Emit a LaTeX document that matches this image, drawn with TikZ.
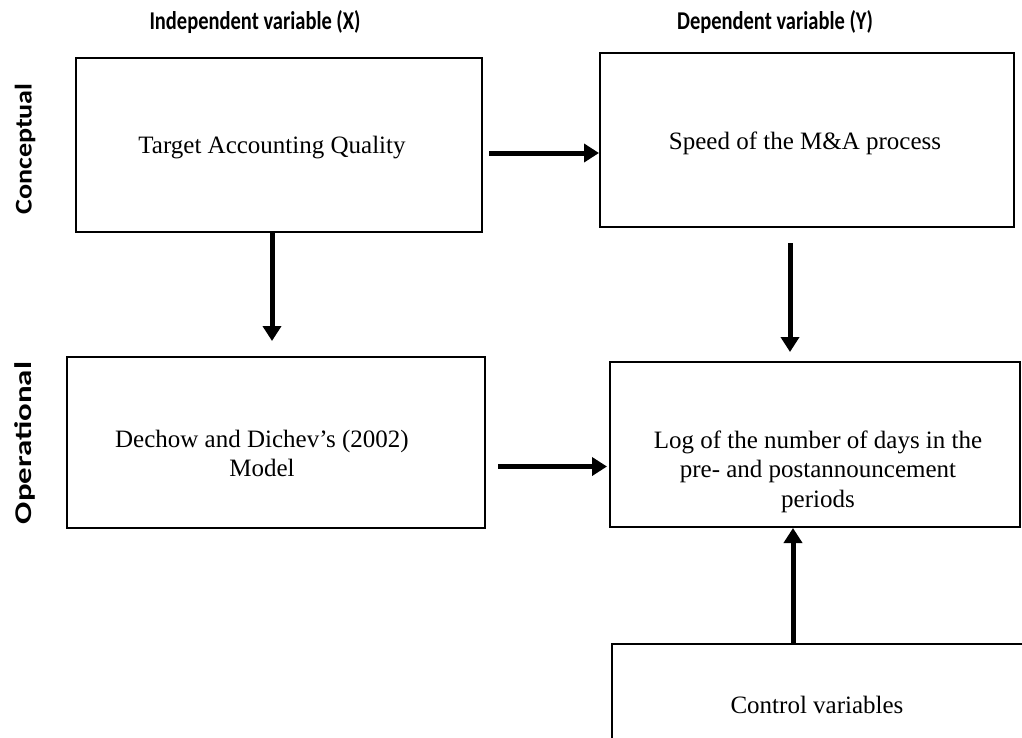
\documentclass[tikz,border=0pt]{standalone}
\usepackage{fontspec}
\setmainfont{Liberation Serif}
\newfontfamily\headfont{Carlito}
\usetikzlibrary{arrows.meta,calc,positioning}

\tikzset{
  box/.style={draw, line width=2pt, rectangle, inner sep=0pt},
  boxtext/.style={align=center, inner sep=0pt, font=\fontsize{25}{29.5}\selectfont},
  flow/.style={line width=5pt, -{Triangle[length=15pt,width=18pt]}},
  head/.style={font=\headfont\bfseries\fontsize{20.5}{24}\selectfont},
  side/.style={rotate=90, font=\headfont\bfseries\fontsize{24}{28}\selectfont},
}

\begin{document}
\begin{tikzpicture}[x=1pt, y=-1pt]
  \useasboundingbox (0,0) rectangle (1022,737);
  % column headings
  \node[head] (indep) at (255,22) {\scalebox{1}[1.25]{Independent variable (X)}};
  \node[head] (dep)   at (775,22) {\scalebox{1}[1.25]{Dependent variable (Y)}};
  % row labels
  \node[side] (concept) at (25,149) {\scalebox{1.17}[1]{Conceptual}};
  \node[side] (oper)    at (25,443) {\scalebox{1.37}[1]{Operational}};
  % boxes
  \node[box, minimum width=406pt, minimum height=174pt] (taq)   at (279,145) {};
  \node[box, minimum width=414pt, minimum height=174pt] (speed) at (807,140) {};
  \node[box, minimum width=418pt, minimum height=171pt] (dd)    at (276,442.5) {};
  \node[box, minimum width=410pt, minimum height=165pt] (logd)  at (815,444.5) {};
  \node[box, minimum width=414pt, minimum height=136pt] (ctrl)  at (819,712) {}; % runs off the page
  % box texts
  \node[boxtext] (taqtext)   at ($(taq.center)+(-7,3)$)   {Target Accounting Quality};
  \node[boxtext] (speedtext) at ($(speed.center)+(-2,3)$) {Speed of the M\&A process};
  \node[boxtext] (ddtext)    at ($(dd.center)+(-14,11)$)  {Dechow and Dichev’s (2002)\\Model};
  \node[boxtext] (logdtext)  at ($(logd.center)+(3,27)$)  {Log of the number of days in the\\pre- and postannouncement\\periods};
  \node[boxtext] (ctrltext)  at ($(ctrl.center)+(-2,-7)$) {Control variables};
  % arrow ends
  \coordinate (a1) at ($(taq.east)+(0,8)$);
  \coordinate (a2) at ($(taq.south)+(-7,0)$);
  \coordinate (a3) at ($(speed.south)+(-17,0)$);
  \coordinate (a4) at ($(dd.east)+(0,24)$);
  \coordinate (a5) at ($(ctrl.north)+(-26,0)$);
  % arrows
  \draw[flow, shorten <=6pt]                 (a1) -- (a1 -| speed.west);
  \draw[flow, shorten >=15pt]                (a2) -- (a2 |- dd.north);
  \draw[flow, shorten <=15pt, shorten >=9pt] (a3) -- (a3 |- logd.north);
  \draw[flow, shorten <=12pt, shorten >=2pt] (a4) -- (a4 -| logd.west);
  \draw[flow]                                (a5) -- (a5 |- logd.south);
\end{tikzpicture}
\end{document}
